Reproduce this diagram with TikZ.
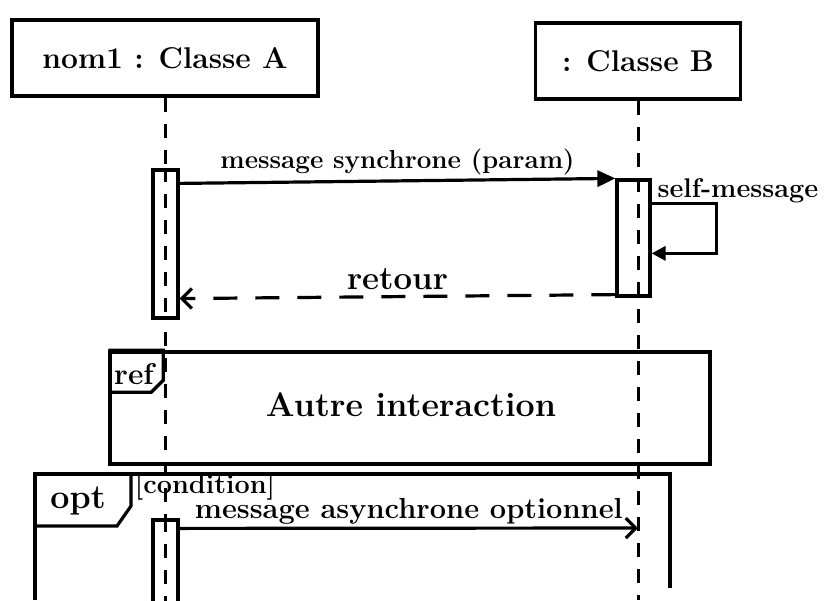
\documentclass[tikz,border=0pt]{standalone}
\usepackage{fontspec}
\usepackage{tikz}
\usetikzlibrary{positioning, arrows.meta}

\tikzset{
    objbox/.style = {draw, line width=3.5pt, minimum height=76pt, inner sep=0pt,
                     font=\fontsize{30}{36}\selectfont\bfseries},
    actbox/.style = {draw, line width=3.2pt, fill=white, minimum width=25pt, inner sep=0pt},
    lifeline/.style = {line width=3pt, dash pattern=on 14pt off 12pt},
    msg/.style = {line width=3.2pt},
    frame/.style = {draw, line width=3.5pt},
    lbl/.style = {font=\fontsize{29}{34}\selectfont\bfseries},
}

\begin{document}
\begin{tikzpicture}[x=1pt, y=-1pt]
            \useasboundingbox (0, 0) rectangle (830, 600);

            \node[objbox, minimum width=306pt] (A) at (165, 58) {nom1 : Classe A};
            \node[objbox, minimum width=205pt] (B) at (638, 61) {: Classe B};

            \coordinate (Aend) at (165, 600);
            \coordinate (Bend) at (638, 600);
            \coordinate (asyncend) at (638, 528);

            % frames behind the lifelines
            \node[frame, minimum width=600pt, minimum height=112pt] (ref) at (410, 408) {};
            \draw[line width=3.2pt] (ref.north west) -- ++(55, 0) -- ++(0, 30) -- ++(-12, 12) -- ++(-43, 0);
            \node[font=\fontsize{30}{34}\selectfont\bfseries] (reftag) at (134, 374) {ref};
            \node[font=\fontsize{34}{40}\selectfont\bfseries] (autre) at (411, 405) {Autre interaction};

            \coordinate (optbl) at (35, 600);
            \coordinate (opttl) at (35, 474);
            \coordinate (opttr) at (670, 474);
            \coordinate (optbr) at (670, 588);
            \draw[line width=3.5pt] (optbl) -- (opttl) -- (opttr) -- (optbr);
            \draw[line width=3.2pt] (opttl) -- ++(96, 0) -- ++(0, 32) -- ++(-14, 20) -- ++(-82, 0);
            \node[font=\fontsize{34}{38}\selectfont\bfseries] (opttag) at (78, 501) {opt};
            \node[font=\fontsize{27}{30}\selectfont\bfseries] (cond) at (205, 487) {[condition]};

            \draw[lifeline] (A) -- (Aend);
            \draw[lifeline] (B) -- (Bend);

            \node[actbox, minimum height=148pt] (actA1) at (165.5, 244) {};
            \node[actbox, minimum width=33pt, minimum height=116pt] (actB) at (633.5, 238) {};
            \node[actbox, minimum height=90pt] (actA2) at (165.5, 565) {};
            \draw[lifeline] (actA1.north) -- (actA1.south);
            \draw[lifeline] (actB.north -| B) -- (actB.south -| B);
            \draw[lifeline] (actA2.north) -- (actA2.south);

            \draw [msg, -{Triangle[length=18pt, width=16pt]}] ([yshift=-15pt]actA1.north east) -- (actB.north west)
                node [font=\fontsize{26}{30}\selectfont\bfseries, midway, above=1pt] {message synchrone (param)};
            \draw [msg, -{Triangle[length=14pt, width=14pt]}] ([yshift=-25pt]actB.north east) -- ++(65, 0)
                node [font=\fontsize{27}{30}\selectfont\bfseries, above right=-4pt and -64pt] {self-message}
                -- ++(0, 50) -- ([yshift=-75pt]actB.north east);
            \draw [msg, dash pattern=on 24pt off 18pt, -{Straight Barb[length=10pt, width=20pt]}]
                ([yshift=3pt]actB.south west) -- ([yshift=21pt]actA1.south east)
                node [font=\fontsize{33}{38}\selectfont\bfseries, midway, above=2pt] {retour};
            \draw [msg, -{Straight Barb[length=10pt, width=20pt]}] ([yshift=-10pt]actA2.north east) -- (asyncend)
                node [lbl, midway, above=-1pt] {message asynchrone optionnel};
        \end{tikzpicture}
\end{document}
